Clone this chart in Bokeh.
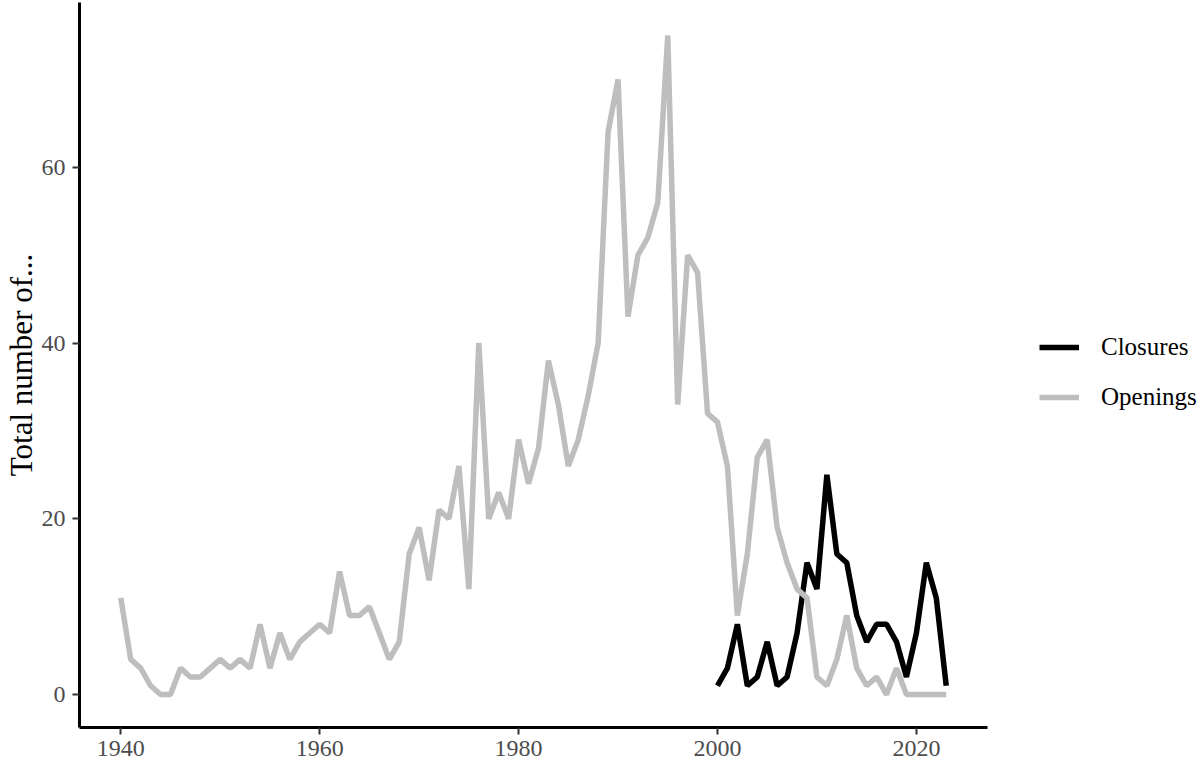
from bokeh.plotting import figure
from bokeh.models import Range1d, FixedTicker, Legend, LegendItem
from bokeh.embed import file_html
from bokeh.resources import INLINE

open_years = list(range(1940, 2024))
openings = [11, 4, 3, 1, 0, 0, 3, 2, 2, 3,
            4, 3, 4, 3, 8, 3, 7, 4, 6, 7,
            8, 7, 14, 9, 9, 10, 7, 4, 6, 16,
            19, 13, 21, 20, 26, 12, 40, 20, 23, 20,
            29, 24, 28, 38, 33, 26, 29, 34, 40, 64,
            70, 43, 50, 52, 56, 75, 33, 50, 48, 32,
            31, 26, 9, 16, 27, 29, 19, 15, 12, 11,
            2, 1, 4, 9, 3, 1, 2, 0, 3, 0,
            0, 0, 0, 0]

close_years = list(range(2000, 2024))
closures = [1, 3, 8, 1, 2, 6, 1, 2, 7, 15,
            12, 25, 16, 15, 9, 6, 8, 8, 6, 2,
            7, 15, 11, 1]

x_ticks = [1940, 1960, 1980, 2000, 2020]
y_ticks = [0, 20, 40, 60]

SERIF = "Liberation Serif"

W, H = 1200, 762
LEFT, TOP, BOTTOM = 79, 2, 35
AXIS_RIGHT_PX = 987          # where the x axis line ends
FRAME_RIGHT_PX = 1199        # frame extended so the legend fits inside it
x0, x1 = 1935.85, 2027.15    # visible data extent of the x axis
px_per_year = (AXIS_RIGHT_PX - LEFT) / (x1 - x0)
x_end = x0 + (FRAME_RIGHT_PX - LEFT) / px_per_year

p = figure(width=W, height=H, output_backend="svg", toolbar_location=None,
           x_range=Range1d(x0, x_end), y_range=Range1d(-3.75, 78.75),
           min_border_left=LEFT, min_border_right=W - FRAME_RIGHT_PX,
           min_border_top=TOP, min_border_bottom=BOTTOM)

p.outline_line_color = None
p.xgrid.grid_line_color = None
p.ygrid.grid_line_color = None
p.background_fill_color = "white"
p.border_fill_color = "white"

r_close = p.line(close_years, closures, line_color="black", line_width=5.5)
r_open = p.line(open_years, openings, line_color="#BEBEBE", line_width=5.5)

for ax in (p.xaxis[0], p.yaxis[0]):
    ax.axis_line_color = "black"
    ax.axis_line_width = 3
    ax.major_tick_line_color = "#333333"
    ax.major_tick_line_width = 2
    ax.major_tick_out = 7
    ax.major_tick_in = 0
    ax.minor_tick_line_color = None
    ax.major_label_text_font = SERIF
    ax.major_label_text_font_size = "24px"
    ax.major_label_text_color = "#4D4D4D"

p.xaxis[0].ticker = FixedTicker(ticks=x_ticks)
p.xaxis[0].bounds = (x0, x1)
p.yaxis[0].ticker = FixedTicker(ticks=y_ticks)
p.xaxis[0].major_label_standoff = 6
p.yaxis[0].major_label_standoff = 7

p.yaxis[0].axis_label = "Total number of..."
p.yaxis[0].axis_label_text_font = SERIF
p.yaxis[0].axis_label_text_font_size = "31px"
p.yaxis[0].axis_label_text_font_style = "normal"
p.yaxis[0].axis_label_text_color = "black"
p.yaxis[0].axis_label_standoff = 0

legend = Legend(items=[LegendItem(label="Closures", renderers=[r_close]),
                       LegendItem(label="Openings", renderers=[r_open])],
                location=(1039 - LEFT, 315), orientation="vertical")
legend.border_line_color = None
legend.background_fill_alpha = 0
legend.padding = 0
legend.margin = 0
legend.glyph_width = 40
legend.glyph_height = 30
legend.label_height = 30
legend.spacing = 20
legend.label_standoff = 22
legend.label_text_font = SERIF
legend.label_text_font_size = "25px"
legend.label_text_color = "black"
p.add_layout(legend, "center")

open("out.html", "w").write(file_html(p, INLINE))
